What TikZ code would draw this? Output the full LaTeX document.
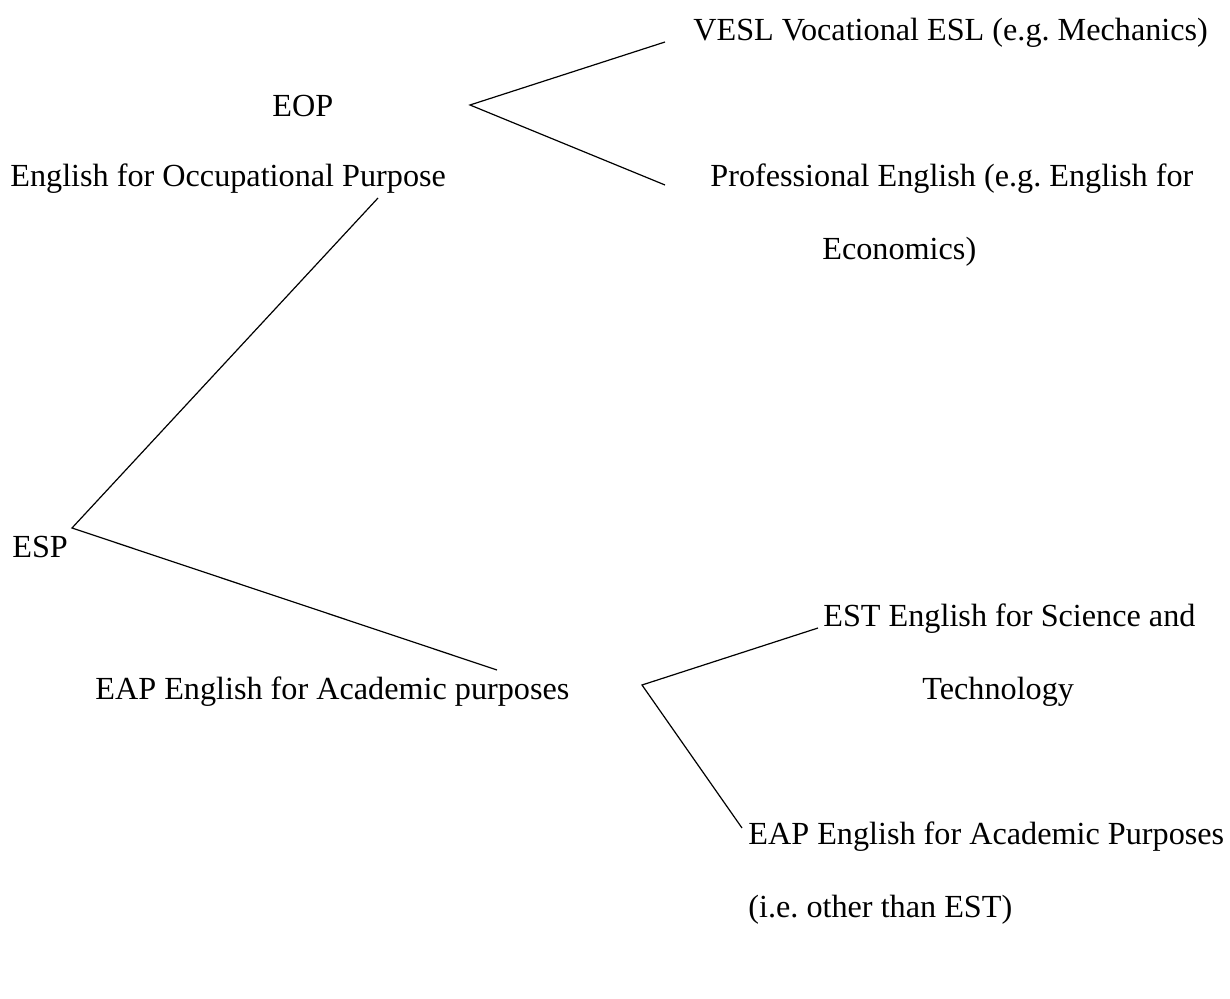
\documentclass[tikz,border=0pt]{standalone}
\usepackage{fontspec}
\setmainfont{Liberation Serif}
\usetikzlibrary{positioning}

\begin{document}
\frenchspacing
\begin{tikzpicture}[
    x=0.5pt, y=-0.5pt,
    lbl/.style={anchor=west, inner sep=0pt, font=\fontsize{16.1}{20}\selectfont},
    branch/.style={line width=0.6pt, black}
  ]
\useasboundingbox (0,0) rectangle (1230,999);

% Occupational branch
\node[lbl] (vesl) at (693,33) {VESL Vocational ESL (e.g. Mechanics)};
\node[lbl] (eop) at (272,106) {EOP};
\node[lbl] (eopfull) at (10,179) {English for Occupational Purpose};
\node[lbl] (prof) at (710,179) {Professional English (e.g. English for};
\node[lbl] (econ) at (822,252) {Economics)};

% Root
\node[lbl] (esp) at (12,547) {ESP};

% Academic branch
\node[lbl] (est) at (823,619) {EST English for Science and};
\node[lbl] (eap) at (95,692) {EAP English for Academic purposes};
\node[lbl] (techn) at (922,692) {Technology};
\node[lbl] (eapsub) at (748,837) {EAP English for Academic Purposes};
\node[lbl] (ieest) at (748,910) {(i.e. other than EST)};

% Line ends
\coordinate (eopfork) at (470,105);
\coordinate (veslend) at (665,42);
\coordinate (profend) at (665,185);
\coordinate (eopend) at (378,198);
\coordinate (espfork) at (72,528);
\coordinate (eapend) at (497,670);
\coordinate (eapfork) at (642,685);
\coordinate (estend) at (818,628);
\coordinate (eapsubend) at (742,828);

\draw[branch] (veslend) -- (eopfork) -- (profend);
\draw[branch] (eopend) -- (espfork) -- (eapend);
\draw[branch] (estend) -- (eapfork) -- (eapsubend);

\end{tikzpicture}
\end{document}
